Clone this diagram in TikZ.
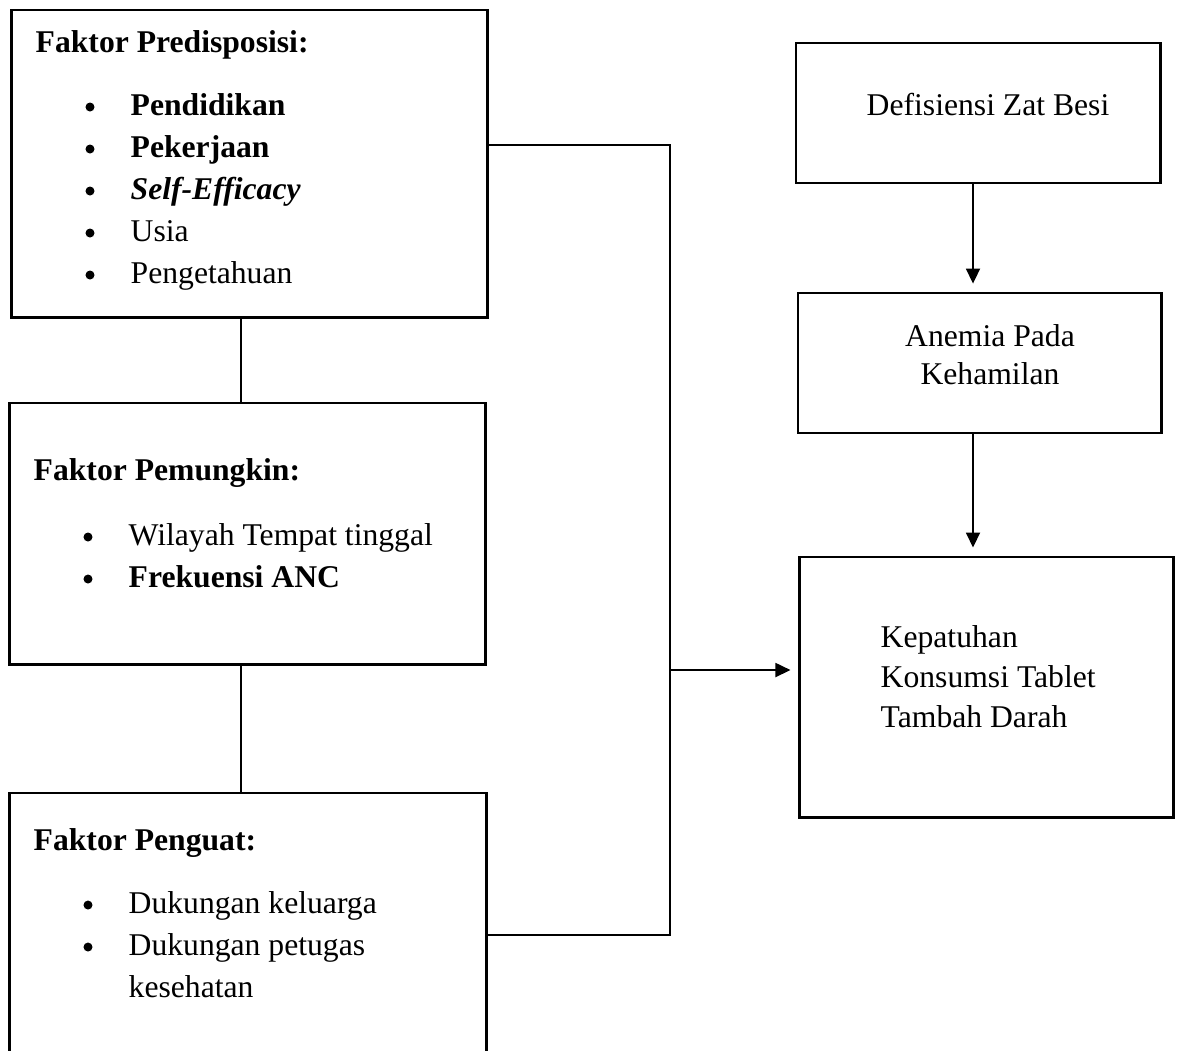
\documentclass[tikz,border=0pt]{standalone}
\usepackage{fontspec}
\setmainfont{Liberation Serif}
\usetikzlibrary{arrows.meta}
\newcommand{\dfont}{\fontsize{9}{11}\selectfont}
\tikzset{
    boxn/.style = {rectangle, draw=black, line width=0.8pt, inner sep=0pt},
    txtn/.style = {anchor=base west, inner sep=0pt, font=\dfont},
    txtc/.style = {anchor=base, inner sep=0pt, font=\dfont},
    buln/.style = {circle, fill=black, inner sep=0pt, minimum size=0.09cm},
    edgen/.style = {-, line width=0.5pt, black},
    edgea/.style = {-{Triangle[length=0.15cm,width=0.14cm]}, line width=0.5pt, black, shorten >=0.08cm}
}
% bullet + text, at x of text and baseline y
\newcommand{\bitem}[4]{%
  \node[buln] (#3b) at (#1-40,#2-8) {};
  \node[txtn] (#3) at (#1,#2) {#4};}

\begin{document}
\begin{tikzpicture}[x=0.01cm, y=-0.01cm]
\useasboundingbox (0,0) rectangle (1179,1050);
\clip (0,0) rectangle (1179,1050);
% left boxes
\node[boxn, minimum width=4.75cm, minimum height=3.07cm] (pre) at (249.5,163.5) {};
\node[boxn, minimum width=4.75cm, minimum height=2.61cm] (pem) at (247.5,533.5) {};
\node[boxn, minimum width=4.76cm, minimum height=2.87cm] (pen) at (248,936.5) {};
% right boxes
\node[boxn, minimum width=3.64cm, minimum height=1.40cm] (def) at (978,113) {};
\node[boxn, minimum width=3.63cm, minimum height=1.40cm] (ane) at (979.5,363) {};
\node[boxn, minimum width=3.73cm, minimum height=2.60cm] (kep) at (986.5,687) {};
%
\node[txtn] (preT) at (35,52) {\textbf{Faktor Predisposisi:}};
\bitem{130}{115}{p1}{\textbf{Pendidikan}}
\bitem{130}{157}{p2}{\textbf{Pekerjaan}}
\bitem{130}{199}{p3}{\textbf{\textit{Self-Efficacy}}}
\bitem{130}{241}{p4}{Usia}
\bitem{130}{283}{p5}{Pengetahuan}
%
\node[txtn] (pemT) at (33,480) {\textbf{Faktor Pemungkin:}};
\bitem{128}{545}{m1}{Wilayah Tempat tinggal}
\bitem{128}{587}{m2}{\textbf{Frekuensi ANC}}
%
\node[txtn] (penT) at (33,850) {\textbf{Faktor Penguat:}};
\bitem{128}{913}{g1}{Dukungan keluarga}
\bitem{128}{955}{g2}{Dukungan petugas}
\node[txtn] (g2c) at (128,997) {kesehatan};
%
\node[txtc] (defT) at (988,115) {Defisiensi Zat Besi};
\node[txtc] (aneT1) at (990,346) {Anemia Pada};
\node[txtc] (aneT2) at (990,384) {Kehamilan};
\node[txtn] (kepT1) at (880,647) {Kepatuhan};
\node[txtn] (kepT2) at (880,687) {Konsumsi Tablet};
\node[txtn] (kepT3) at (880,727) {Tambah Darah};
%
\coordinate (lx) at (241,0);
\coordinate (bt) at (670,145);
\coordinate (bb) at (670,935);
\coordinate (bm) at (670,670);
\coordinate (rx) at (973,0);
\draw[edgen] (pre.south -| lx) -- (pem.north -| lx);
\draw[edgen] (pem.south -| lx) -- (pen.north -| lx);
\draw[edgen] (pre.east |- bt) -- (bt) -- (bb) -- (pen.east |- bb);
\draw[edgea] (bm) -- (bm -| kep.west);
\draw[edgea] (def.south -| rx) -- (ane.north -| rx);
\draw[edgea] (ane.south -| rx) -- (kep.north -| rx);
\end{tikzpicture}
\end{document}
